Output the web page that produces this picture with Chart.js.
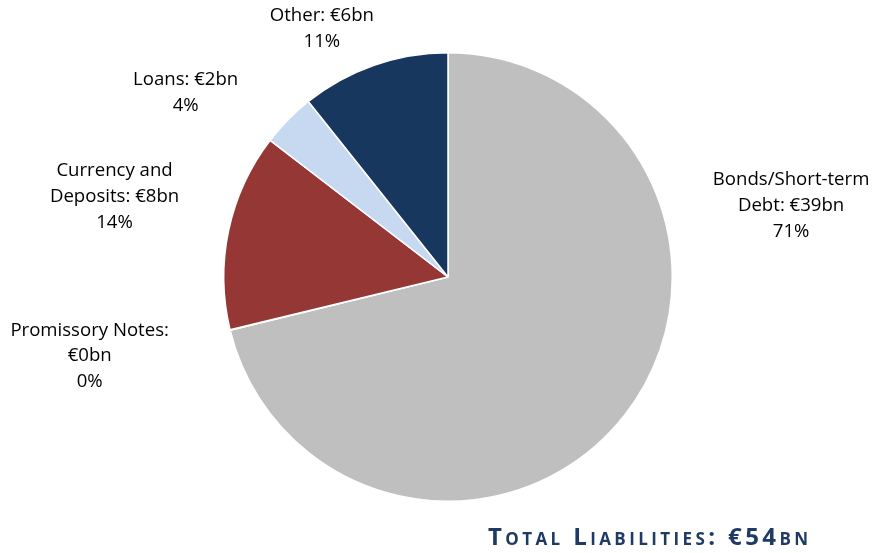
<!DOCTYPE html>
<html>
<head>
<meta charset="utf-8">
<script src="https://cdn.jsdelivr.net/npm/chart.js@4"></script>
<style>
  body { margin: 0; background: #fff; }
  #wrap { position: relative; width: 873px; height: 553px; }
  #total {
    position: absolute; left: 488px; top: 519px;
    font-family: "Open Sans", Lato, sans-serif; font-weight: bold;
    font-size: 24px; font-variant: small-caps; letter-spacing: 3.4px;
    color: #1F3A63; white-space: nowrap;
  }
</style>
</head>
<body>
<div id="wrap">
  <canvas id="myChart" width="873" height="553"></canvas>
  <div id="total">Total Liabilities: €54bn</div>
</div>
<script>
const ctx = document.getElementById('myChart');

// liabilities, € bn (slice sizes)
const categories = ['Bonds/Short-term Debt', 'Promissory Notes', 'Currency and Deposits', 'Loans', 'Other'];
const values = [38.6, 0.02, 7.7, 2.1, 5.8];
const amountLabels = ['€39bn', '€0bn', '€8bn', '€2bn', '€6bn'];
const pctLabels = ['71%', '0%', '14%', '4%', '11%'];

const colors = ['#BFBFBF', '#BFBFBF', '#953735', '#C6D9F1', '#17375E'];

// label text lines and where they sit (in pie radii from the centre)
const labelLines = [
  ['Bonds/Short-term', 'Debt: ' + amountLabels[0], pctLabels[0]],
  ['Promissory Notes:', amountLabels[1], pctLabels[1]],
  ['Currency and', 'Deposits: ' + amountLabels[2], pctLabels[2]],
  ['Loans: ' + amountLabels[3], pctLabels[3]],
  ['Other: ' + amountLabels[4], pctLabels[4]]
];
const labelAt = [[1.53, -0.317], [-1.598, 0.353], [-1.487, -0.357], [-1.17, -0.821], [-0.5625, -1.107]];

const outsideLabels = {
  id: 'outsideLabels',
  afterDraw(chart) {
    const arc = chart.getDatasetMeta(0).data[0];
    const c = chart.ctx;
    c.save();
    c.font = '18.6px "Open Sans", Lato, sans-serif';
    c.fillStyle = '#000';
    c.textAlign = 'center';
    c.textBaseline = 'middle';
    labelLines.forEach((lines, i) => {
      const x = arc.x + labelAt[i][0] * arc.outerRadius;
      const y = arc.y + labelAt[i][1] * arc.outerRadius;
      const lh = 25.8;
      lines.forEach((t, j) => {
        c.fillText(t, x, y + (j - (lines.length - 1) / 2) * lh);
      });
    });
    c.restore();
  }
};

new Chart(ctx, {
  type: 'pie',
  data: {
    labels: categories,
    datasets: [{
      data: values,
      backgroundColor: colors,
      borderColor: '#fff',
      borderWidth: 1.5
    }]
  },
  options: {
    responsive: false,
    animation: false,
    layout: { padding: { top: 52, bottom: 51, left: 23, right: 0 } },
    plugins: {
      legend: { display: false },
      tooltip: { enabled: false }
    }
  },
  plugins: [outsideLabels]
});
</script>
</body>
</html>
